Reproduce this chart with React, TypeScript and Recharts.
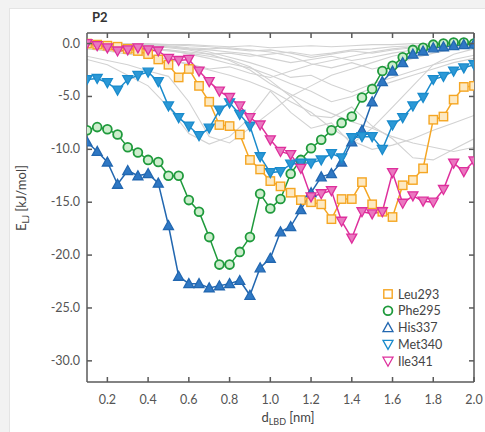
import React from 'react';
import { LineChart, Line, XAxis, YAxis } from 'recharts';

const xs = [0.1, 0.15, 0.2, 0.25, 0.3, 0.35, 0.4, 0.45, 0.5, 0.55, 0.6, 0.65, 0.7, 0.75, 0.8, 0.85, 0.9, 0.95, 1.0, 1.05, 1.1, 1.15, 1.2, 1.25, 1.3, 1.35, 1.4, 1.45, 1.5, 1.55, 1.6, 1.65, 1.7, 1.75, 1.8, 1.85, 1.9, 1.95, 2.0];

const leu293 = [0.0, -0.1, -0.2, -0.3, -0.5, -0.7, -1.0, -1.5, -2.0, -3.2, -2.4, -4.0, -5.5, -7.7, -7.8, -8.6, -11.0, -11.9, -13.0, -13.5, -14.1, -14.8, -15.0, -15.2, -16.6, -14.7, -14.7, -13.1, -15.2, -15.9, -16.4, -13.4, -12.9, -11.8, -7.2, -6.9, -5.3, -4.1, -4.0];
const phe295 = [-8.2, -7.9, -8.1, -8.6, -9.8, -10.3, -11.0, -11.2, -12.5, -12.5, -14.8, -15.9, -18.3, -20.9, -20.9, -19.7, -18.3, -14.2, -15.6, -14.7, -12.3, -11.0, -9.9, -9.1, -8.2, -7.5, -6.9, -5.1, -4.3, -2.6, -2.1, -1.3, -0.6, -0.4, -0.1, 0.0, 0.1, 0.1, 0.0];
const his337 = [-9.3, -10.2, -11.2, -13.3, -12.0, -12.5, -12.3, -13.2, -17.2, -22.0, -22.7, -22.7, -23.1, -22.9, -22.7, -22.4, -23.8, -21.2, -20.3, -17.8, -17.3, -15.7, -14.1, -12.6, -12.3, -11.2, -9.3, -8.2, -5.5, -3.6, -2.6, -1.8, -1.0, -0.7, -0.4, -0.3, -0.2, -0.1, -0.05];
const met340 = [-3.4, -3.3, -3.7, -4.4, -3.4, -3.0, -2.7, -3.6, -5.9, -7.0, -7.8, -8.7, -8.0, -6.3, -5.6, -6.7, -7.8, -10.7, -12.2, -12.1, -11.4, -11.3, -11.3, -11.0, -10.4, -10.8, -8.9, -8.8, -8.8, -10.0, -7.7, -7.0, -5.9, -5.1, -3.4, -3.1, -2.6, -2.3, -2.0];
const ile341 = [0.0, -0.2, -0.4, -0.7, -0.6, -0.4, -0.6, -0.7, -1.4, -1.6, -1.5, -2.6, -3.6, -4.5, -5.1, -5.9, -7.0, -7.7, -9.1, -10.2, -10.5, -11.8, -14.5, -14.2, -13.9, -16.8, -18.4, -15.9, -16.1, -15.9, -12.2, -15.1, -14.4, -14.9, -15.0, -13.8, -11.3, -12.1, -11.1];

const grayXs = [0.1, 0.2, 0.3, 0.4, 0.5, 0.6, 0.7, 0.8, 0.9, 1.0, 1.1, 1.2, 1.3, 1.4, 1.5, 1.6, 1.7, 1.8, 1.9, 2.0];
const gray1 = [0, 0, 0, 0, -0.1, -0.1, -0.2, -0.3, -0.2, -0.4, -0.3, -0.2, -0.3, -0.2, -0.1, -0.1, 0, 0, 0, 0];
const gray2 = [-0.2, -0.3, -0.4, -0.5, -0.6, -0.8, -1.0, -0.9, -1.2, -1.0, -0.8, -1.1, -0.9, -0.6, -0.5, -0.3, -0.2, -0.1, 0, 0];
const gray3 = [-0.5, -0.7, -1.0, -1.2, -1.5, -1.9, -2.4, -2.2, -2.8, -3.2, -2.6, -2.0, -1.6, -1.2, -0.8, -0.5, -0.3, -0.2, -0.1, 0];
const gray4 = [-1.2, -1.6, -2.0, -2.6, -3.1, -5.5, -8.8, -9.4, -8.0, -6.5, -5.0, -4.0, -3.0, -2.4, -1.8, -1.2, -0.8, -0.5, -0.3, -0.2];
const gray5 = [-1.5, -2.0, -3.0, -4.0, -6.0, -8.5, -9.5, -8.8, -7.0, -4.5, -6.5, -8.0, -7.5, -9.5, -8.0, -6.0, -4.0, -2.0, -1.0, -0.5];
const gray6 = [-0.3, -0.5, -0.8, -1.0, -1.5, -2.0, -2.5, -3.0, -3.6, -4.4, -5.5, -6.5, -8.0, -9.2, -10.0, -9.6, -9.0, -8.2, -7.5, -6.8];
const gray7 = [0, -0.1, -0.2, -0.4, -0.6, -1.0, -1.4, -1.9, -2.3, -3.0, -3.8, -4.5, -5.5, -5.0, -4.2, -3.6, -3.0, -2.4, -1.8, -1.4];
const gray8 = [-0.1, -0.2, -0.3, -0.5, -0.7, -0.9, -1.2, -1.5, -2.2, -3.5, -5.0, -6.8, -7.0, -6.0, -7.8, -9.0, -10.8, -11.0, -10.0, -9.0];
const gray9 = [0, 0, -0.1, -0.2, -0.4, -0.6, -1.0, -1.6, -2.5, -3.8, -4.8, -5.8, -6.6, -7.4, -8.0, -8.8, -9.4, -9.8, -10.2, -9.8];
const gray10 = [0, -0.1, -0.1, -0.2, -0.3, -0.5, -0.6, -0.8, -1.0, -1.4, -1.8, -1.5, -1.2, -1.6, -1.3, -0.9, -0.6, -0.4, -0.2, -0.1];
const gray11 = [0, 0, 0, -0.1, -0.1, -0.2, -0.3, -0.5, -0.7, -0.6, -0.9, -1.3, -1.0, -0.7, -0.9, -0.6, -0.4, -0.3, -0.1, 0];
const gray12 = [0, -0.1, -0.1, -0.1, -0.2, -0.4, -0.5, -0.4, -0.6, -0.8, -1.2, -1.9, -2.3, -1.8, -2.4, -2.0, -1.4, -0.9, -0.5, -0.3];
const gray13 = [-0.1, -0.1, -0.2, -0.3, -0.3, -0.5, -0.8, -1.3, -1.8, -2.4, -3.2, -3.0, -3.9, -4.6, -3.8, -3.2, -2.6, -2.0, -1.5, -1.1];
const grays = [gray1, gray2, gray3, gray4, gray5, gray6, gray7, gray8, gray9, gray10, gray11, gray12, gray13];

const xTicks = [0.2, 0.4, 0.6, 0.8, 1.0, 1.2, 1.4, 1.6, 1.8, 2.0];
const yTicks = [0, -5, -10, -15, -20, -25, -30];

const seriesNames = ['Leu293', 'Phe295', 'His337', 'Met340', 'Ile341'];

const data = xs.map((x, i) => ({ x, leu: leu293[i], phe: phe295[i], his: his337[i], met: met340[i], ile: ile341[i] }));
const grayData = grays.map((g) => grayXs.map((x, i) => ({ x, y: g[i] })));

const PL = 87, PR = 474, PT = 33, PB = 382;
const AX = '#5a5a5a';
const FONT = 'Lato, "Open Sans", sans-serif';

const COLORS = { leu: '#f5a623', phe: '#1f9a3c', his: '#2267b0', met: '#1a8bcc', ile: '#de2f9c' };

function Shape({ kind, cx, cy, legend }: { kind: string; cx: number; cy: number; legend?: boolean }) {
  if (cx == null || cy == null) return null;
  if (kind === 'leu') {
    return <rect x={cx - 4.2} y={cy - 4.2} width={8.4} height={8.4} fill={legend ? '#fff' : '#fde9c2'} stroke={COLORS.leu} strokeWidth={1.4} />;
  }
  if (kind === 'phe') {
    return <circle cx={cx} cy={cy} r={4.4} fill={legend ? '#fff' : '#cdeecd'} stroke={COLORS.phe} strokeWidth={1.8} />;
  }
  if (kind === 'his') {
    return <polygon points={`${cx},${cy - 5} ${cx - 5},${cy + 4} ${cx + 5},${cy + 4}`} fill={legend ? '#fff' : '#2f78c4'} stroke={COLORS.his} strokeWidth={1.3} />;
  }
  if (kind === 'met') {
    return <polygon points={`${cx - 5},${cy - 4} ${cx + 5},${cy - 4} ${cx},${cy + 5}`} fill={legend ? '#fff' : '#2b98d6'} stroke={COLORS.met} strokeWidth={1.3} />;
  }
  return <polygon points={`${cx - 5},${cy - 4} ${cx + 5},${cy - 4} ${cx},${cy + 5}`} fill={legend ? '#fff' : '#ea78c0'} stroke={COLORS.ile} strokeWidth={1.3} />;
}

const makeDot = (kind: string) => (p: any) => <Shape key={`${kind}-${p.index}`} kind={kind} cx={p.cx} cy={p.cy} />;

const BottomTick = (p: any) => (
  <g>
    <line x1={p.x} x2={p.x} y1={PB} y2={PB - 5} stroke={AX} strokeWidth={1.5} />
    <text x={p.x} y={PB + 22} textAnchor="middle" fontSize={12.5} fill="#555" fontFamily={FONT}>{Number(p.payload.value).toFixed(1)}</text>
  </g>
);
const TopTick = (p: any) => (
  <line x1={p.x} x2={p.x} y1={PT} y2={PT + 5} stroke={AX} strokeWidth={1.5} />
);
const LeftTick = (p: any) => (
  <g>
    <line x1={PL} x2={PL + 5} y1={p.y} y2={p.y} stroke={AX} strokeWidth={1.5} />
    <text x={PL - 7} y={p.y + 4} textAnchor="end" fontSize={12.5} fill="#555" fontFamily={FONT}>{Number(p.payload.value).toFixed(1)}</text>
  </g>
);
const RightTick = (p: any) => (
  <line x1={PR} x2={PR - 5} y1={p.y} y2={p.y} stroke={AX} strokeWidth={1.5} />
);

const keys = ['leu', 'phe', 'his', 'met', 'ile'];

const BH = 30, TH = 2, LW = 50, RW = 2;

export default function App() {
  return (
    <div style={{ position: 'absolute', left: 0, top: 0, width: 485, height: 432, background: '#f2f2f2', overflow: 'hidden', fontFamily: FONT }}>
      <div style={{ position: 'absolute', left: 9, top: 8, width: 476, height: 424, background: '#fff', borderLeft: '1px solid #e4e4e4', borderTop: '1px solid #e4e4e4' }} />
      <div style={{ position: 'absolute', left: 0, top: 0 }}>
        <LineChart width={485} height={432} data={data} margin={{ top: PT - TH, right: 485 - PR - RW, bottom: 432 - PB - BH, left: PL - LW }}>
          <XAxis dataKey="x" type="number" domain={[0.1, 2.0]} ticks={xTicks} allowDataOverflow height={BH} axisLine={{ stroke: AX, strokeWidth: 1.5 }} tickLine={false} tick={BottomTick} interval={0} />
          <XAxis xAxisId="top" orientation="top" dataKey="x" type="number" domain={[0.1, 2.0]} ticks={xTicks} allowDataOverflow height={TH} axisLine={{ stroke: AX, strokeWidth: 1.5 }} tickLine={false} tick={TopTick} interval={0} />
          <YAxis type="number" domain={[-32, 1]} ticks={yTicks} allowDataOverflow width={LW} axisLine={{ stroke: AX, strokeWidth: 1.5 }} tickLine={false} tick={LeftTick} interval={0} />
          <YAxis yAxisId="right" orientation="right" type="number" domain={[-32, 1]} ticks={yTicks} allowDataOverflow width={RW} axisLine={{ stroke: AX, strokeWidth: 1.5 }} tickLine={false} tick={RightTick} interval={0} />
          {grayData.map((g, i) => (
            <Line key={`g${i}`} data={g} dataKey="y" type="linear" stroke="#d2d2d2" strokeWidth={1.1} dot={false} isAnimationActive={false} />
          ))}
          <Line xAxisId="top" yAxisId="right" data={[{ x: 0.1, y: 0 }]} dataKey="y" stroke="none" dot={false} isAnimationActive={false} />
          {keys.map((k) => (
            <Line key={k} dataKey={k} type="linear" stroke={(COLORS as any)[k]} strokeWidth={1.5} dot={makeDot(k)} activeDot={false} isAnimationActive={false} />
          ))}
        </LineChart>
      </div>
      <div style={{ position: 'absolute', left: 92, top: 9, fontSize: 13, fontWeight: 700, color: '#333' }}>P2</div>
      <div style={{ position: 'absolute', left: 22, top: 198, transform: 'translate(-50%, -50%) rotate(-90deg)', fontSize: 13, color: '#444', whiteSpace: 'nowrap' }}>
        E<sub style={{ fontSize: 9 }}>LJ</sub> [kJ/mol]
      </div>
      <div style={{ position: 'absolute', left: 288, top: 418, transform: 'translate(-50%, -50%)', fontSize: 13, color: '#444', whiteSpace: 'nowrap' }}>
        d<sub style={{ fontSize: 9 }}>LBD</sub> [nm]
      </div>
      <svg style={{ position: 'absolute', left: 0, top: 0 }} width={485} height={432}>
        {keys.map((k, i) => (
          <g key={k}>
            <Shape kind={k} cx={388} cy={294 + i * 16.8} legend />
            <text x={398} y={298.5 + i * 16.8} fontSize={12.5} fill="#444" fontFamily={FONT}>{seriesNames[i]}</text>
          </g>
        ))}
      </svg>
    </div>
  );
}
